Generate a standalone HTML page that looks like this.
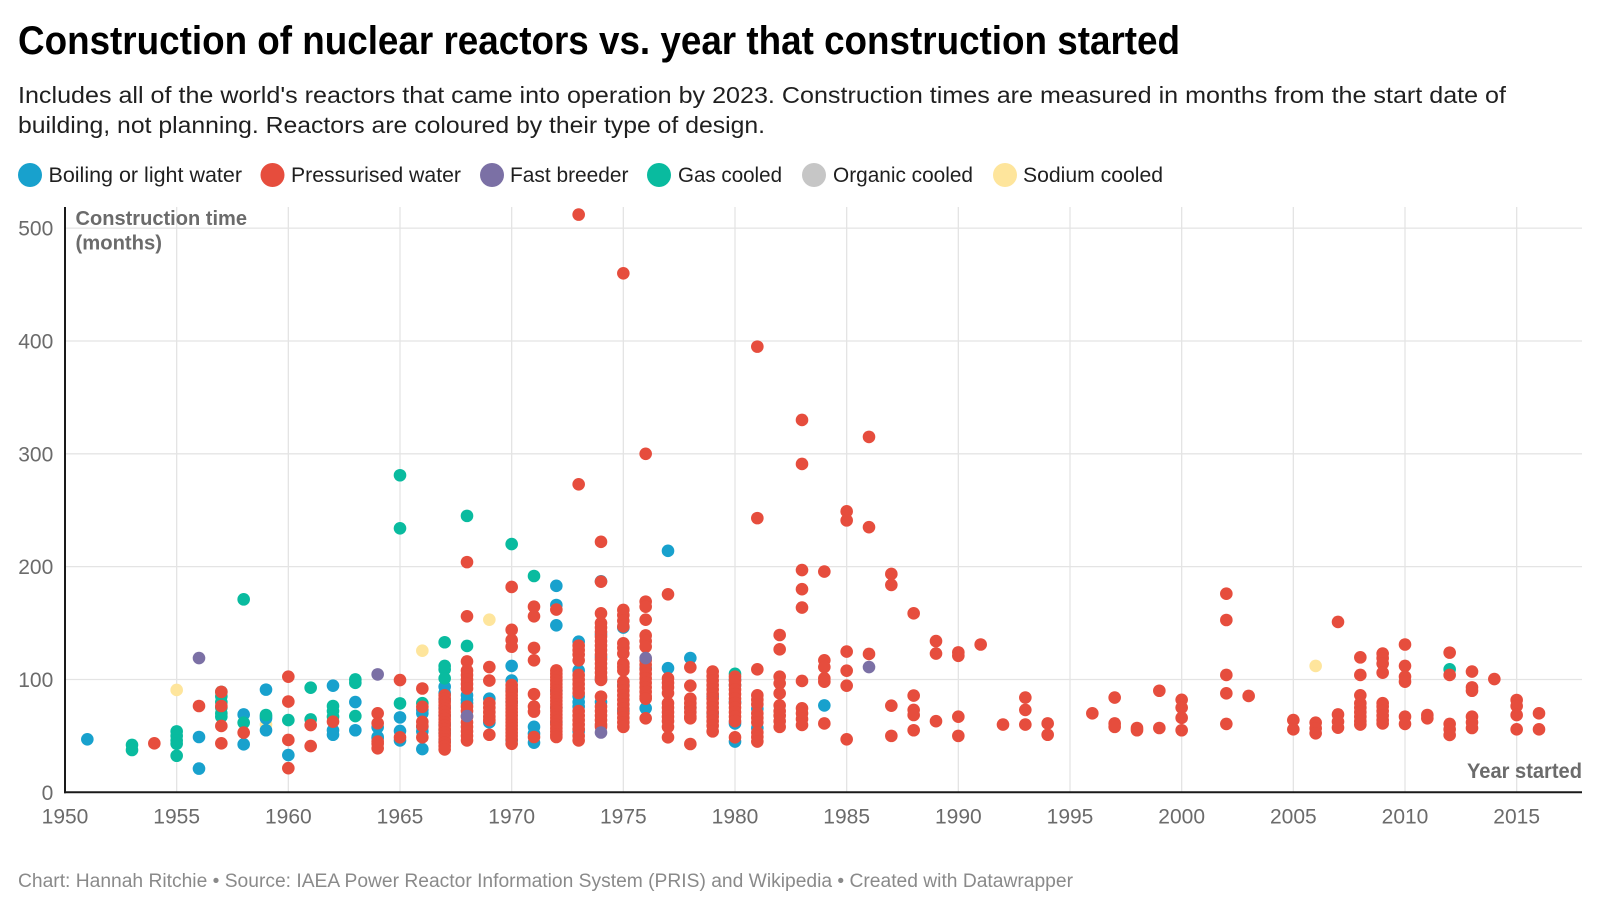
<!DOCTYPE html>
<html>
<head>
<meta charset="utf-8">
<style>
  html,body{margin:0;padding:0;background:#fff;}
  body{width:1600px;height:923px;overflow:hidden;}
  svg{display:block;}
  text{font-family:"Liberation Sans", Arial, sans-serif;}
</style>
</head>
<body>
<svg id="chart" width="1600" height="923" viewBox="0 0 1600 923" xmlns="http://www.w3.org/2000/svg">
  <rect x="0" y="0" width="1600" height="923" fill="#ffffff"/>

  <!-- Title & subtitle -->
  <text x="18" y="54" font-size="40" font-weight="bold" fill="#000" textLength="1162" lengthAdjust="spacingAndGlyphs">Construction of nuclear reactors vs. year that construction started</text>
  <text x="18" y="103" font-size="23" fill="#1f1f1f" textLength="1488" lengthAdjust="spacingAndGlyphs">Includes all of the world's reactors that came into operation by 2023. Construction times are measured in months from the start date of</text>
  <text x="18" y="133" font-size="23" fill="#1f1f1f" textLength="747" lengthAdjust="spacingAndGlyphs">building, not planning. Reactors are coloured by their type of design.</text>

  <!-- Legend -->
  <circle cx="30" cy="175" r="12" fill="#18a1cd"/>
  <text x="48.5" y="182" font-size="21" fill="#1f1f1f" textLength="193.5" lengthAdjust="spacingAndGlyphs">Boiling or light water</text>
  <circle cx="272.5" cy="175" r="12" fill="#e64d3d"/>
  <text x="291" y="182" font-size="21" fill="#1f1f1f" textLength="170" lengthAdjust="spacingAndGlyphs">Pressurised water</text>
  <circle cx="492" cy="175" r="12" fill="#7b70a5"/>
  <text x="510" y="182" font-size="21" fill="#1f1f1f" textLength="118.5" lengthAdjust="spacingAndGlyphs">Fast breeder</text>
  <circle cx="659" cy="175" r="12" fill="#09bb9f"/>
  <text x="678" y="182" font-size="21" fill="#1f1f1f" textLength="104" lengthAdjust="spacingAndGlyphs">Gas cooled</text>
  <circle cx="814" cy="175" r="12" fill="#c6c6c6"/>
  <text x="833" y="182" font-size="21" fill="#1f1f1f" textLength="140" lengthAdjust="spacingAndGlyphs">Organic cooled</text>
  <circle cx="1005" cy="175" r="12" fill="#fee59c"/>
  <text x="1023" y="182" font-size="21" fill="#1f1f1f" textLength="140" lengthAdjust="spacingAndGlyphs">Sodium cooled</text>

  <!-- Gridlines -->
  <g stroke="#e4e4e4" stroke-width="1.3">
    <line x1="65" y1="679.47" x2="1582" y2="679.47"/>
    <line x1="65" y1="566.64" x2="1582" y2="566.64"/>
    <line x1="65" y1="453.81" x2="1582" y2="453.81"/>
    <line x1="65" y1="340.98" x2="1582" y2="340.98"/>
    <line x1="65" y1="228.15" x2="1582" y2="228.15"/>
    <line x1="176.67" y1="207" x2="176.67" y2="792"/>
    <line x1="288.33" y1="207" x2="288.33" y2="792"/>
    <line x1="400" y1="207" x2="400" y2="792"/>
    <line x1="511.67" y1="207" x2="511.67" y2="792"/>
    <line x1="623.33" y1="207" x2="623.33" y2="792"/>
    <line x1="735" y1="207" x2="735" y2="792"/>
    <line x1="846.67" y1="207" x2="846.67" y2="792"/>
    <line x1="958.33" y1="207" x2="958.33" y2="792"/>
    <line x1="1070" y1="207" x2="1070" y2="792"/>
    <line x1="1181.67" y1="207" x2="1181.67" y2="792"/>
    <line x1="1293.33" y1="207" x2="1293.33" y2="792"/>
    <line x1="1405" y1="207" x2="1405" y2="792"/>
    <line x1="1516.67" y1="207" x2="1516.67" y2="792"/>
  </g>

  <!-- Axis titles -->
  <text x="75.5" y="225" font-size="20" font-weight="bold" fill="#6b6b6b" textLength="171.5" lengthAdjust="spacingAndGlyphs">Construction time</text>
  <text x="75.5" y="249.5" font-size="20" font-weight="bold" fill="#6b6b6b" textLength="86.5" lengthAdjust="spacingAndGlyphs">(months)</text>
  <text x="1467" y="778" font-size="21" font-weight="bold" fill="#6b6b6b" textLength="115" lengthAdjust="spacingAndGlyphs">Year started</text>

  <!-- Points -->
  <g id="pts"></g>

  <!-- Axes -->
  <line x1="65" y1="207" x2="65" y2="793.3" stroke="#1a1a1a" stroke-width="2"/>
  <line x1="64" y1="792.3" x2="1582" y2="792.3" stroke="#1a1a1a" stroke-width="2"/>

  <!-- Y tick labels -->
  <g font-size="21" fill="#6b6b6b" text-anchor="end">
    <text x="53.3" y="799.8">0</text>
    <text x="53.3" y="687">100</text>
    <text x="53.3" y="574.1">200</text>
    <text x="53.3" y="461.3">300</text>
    <text x="53.3" y="348.5">400</text>
    <text x="53.3" y="235.6">500</text>
  </g>

  <!-- X tick labels -->
  <g font-size="21" fill="#6b6b6b" text-anchor="middle">
    <text x="65" y="823.5">1950</text>
    <text x="176.67" y="823.5">1955</text>
    <text x="288.33" y="823.5">1960</text>
    <text x="400" y="823.5">1965</text>
    <text x="511.67" y="823.5">1970</text>
    <text x="623.33" y="823.5">1975</text>
    <text x="735" y="823.5">1980</text>
    <text x="846.67" y="823.5">1985</text>
    <text x="958.33" y="823.5">1990</text>
    <text x="1070" y="823.5">1995</text>
    <text x="1181.67" y="823.5">2000</text>
    <text x="1293.33" y="823.5">2005</text>
    <text x="1405" y="823.5">2010</text>
    <text x="1516.67" y="823.5">2015</text>
  </g>

  <!-- Footer -->
  <text x="18" y="887" font-size="19" fill="#8a8a8a" textLength="1055" lengthAdjust="spacingAndGlyphs">Chart: Hannah Ritchie • Source: IAEA Power Reactor Information System (PRIS) and Wikipedia • Created with Datawrapper</text>
</svg>

<script>
(function(){
  var X = function(y){ return 65 + (y-1950)*22.3333; };
  var Y = function(m){ return 792.3 - m*1.1283; };
  var R = 6.3;
  var series = [
    {c:"#fee59c", d:{
      1955:[90.7],1959:[60],1966:[125.5],1969:[153],2006:[112]
    }},
    {c:"#18a1cd", d:{
      1951:[47],1956:[49,21],1958:[69,42.5],1959:[91,65.5,55,67],1960:[33],
      1962:[94.5,55,51],1963:[80,55],1964:[57.6,48,49],1965:[66.4,54.4,46],
      1966:[73,70,58,54,38.3],1967:[93.6,88,82,75,68,60,52,45],1968:[86,82,79],
      1969:[83,62],1970:[112,99,90,80,46],1971:[58,44,52],1972:[183,166,148,90,75,62],
      1973:[133.5,108,85,76,54,80],1974:[187,140,120,100,80],1975:[146,95,72],
      1976:[74.5,110],1977:[214,110],1978:[119,75],1979:[85,70],1980:[61,45,80,95,100],
      1981:[74,57],1984:[77]
    }},
    {c:"#09bb9f", d:{
      1953:[42,37.5],1955:[54,50,46,43,32.4],1957:[89,85,80,75,70,67],1958:[171,61.7],
      1959:[68.5],1960:[64],1961:[92.7,64.6],1962:[76.5,72,67],1963:[100,97,67.6],
      1965:[281,234,78.8],1966:[79],1967:[133,112,109,101,55],1968:[245,129.7],
      1970:[220],1971:[191.7],1980:[105],2012:[109]
    }},
    {c:"#e64d3d", d:{
      1954:[43.4],1956:[76.5],1957:[89,76.5,58.8,43.4],1958:[52.9],1960:[102.5,80.4,46.4,21.4],
      1961:[59.6,41],1962:[62.6],1964:[70,61.2,43,39,45],1965:[99.5,48.7],
      1966:[92,75.8,62.5,58.8,48.7],
      1967:[86,83,80,77,74,71,68,65,62,59,56,53,50,47,44,41,38],
      1968:[204,156,116,108,104,100,96,92,76,72,67,62,58,54,50,46],
      1969:[111,99,79,75,71,67,64,51],
      1970:[182,144,135,129,95,92,89,86,83,80,77,74,71,68,65,62,59,56,53,50,47,43],
      1971:[164.5,156,128,117,87,76,71.5,49],
      1972:[162,108,105,102,99,96,93,90,87,84,81,78,75,72,69,66,63,60,57,54,51,49],
      1973:[512,273,130,126,122,117,104,100,96,92,88,72,68,64,60,56,50,46],
      1974:[222,186.7,158.6,150,146,142,138,134,130,126,122,118,114,110,106,102,99.6,84.8,76,72,68,64,60,58],
      1975:[460,161.6,157,152,147,132,128,123,114,111,108,98,94,90,86,82,78,74,70,66,62,58],
      1976:[300,169,164.5,153,139,134,129,117,113,109,105,101,97,93,89,85,83,65.6],
      1977:[175.5,101,97,93,88,79,75,71,67,63,58,48.7],
      1978:[110.8,94.5,83,79,75,71,67,65.6,42.8],
      1979:[107,103,99,95,91,87,83,79,75,71,67,63,59,54],
      1980:[102.5,99,95,91,87,83,79,75,71,67,63,48.7],
      1981:[395,243,109,86,82,78,70,66,62,53,49,45],
      1982:[139.4,126.7,102.5,96.6,87.7,77,72,68,63,58],
      1983:[330,291,197,180,163.7,98.7,74.4,70,65,59.7],
      1984:[195.6,117,111,101,98,61],
      1985:[249,241,124.7,107.8,94.5,47],
      1986:[315,235,122.6],
      1987:[193.5,183.8,76.8,50],
      1988:[158.6,85.7,73,68.5,55],
      1989:[134,123,63],
      1990:[124,121,67,50],
      1991:[131],1992:[60],1993:[84,73,60],1994:[61,51],1996:[70],
      1997:[84,61,58],1998:[57,55],1999:[90,57],2000:[82,75,66,55],
      2002:[176,152.7,104,87.7,60.6],2003:[85.4],2005:[64,55.8],
      2006:[61.7,56.7,52.3],2007:[151,69,62.6,57.3],
      2008:[119.6,104,86,79,75,71,67,63,60],
      2009:[123,118.8,114,106,79,76,72,68,64,61],
      2010:[131,112,102.5,98,67,60.6],2011:[68.5,65.6],
      2012:[123.8,104,60.6,55.8,50.8],2013:[107,93,90,67,62,57],
      2014:[100.4],2015:[81.8,76.5,68.5,55.8],2016:[70,55.8]
    }},
    {c:"#7b70a5", d:{
      1956:[119],1964:[104.5],1968:[67.6],1974:[53],1976:[119],1986:[111]
    }}
  ];
  var g = document.getElementById("pts");
  var NS = "http://www.w3.org/2000/svg";
  series.forEach(function(s){
    Object.keys(s.d).forEach(function(yr){
      s.d[yr].forEach(function(m){
        var c = document.createElementNS(NS,"circle");
        c.setAttribute("cx", X(+yr).toFixed(2));
        c.setAttribute("cy", Y(m).toFixed(2));
        c.setAttribute("r", R);
        c.setAttribute("fill", s.c);
        g.appendChild(c);
      });
    });
  });
})();
</script>
</body>
</html>
